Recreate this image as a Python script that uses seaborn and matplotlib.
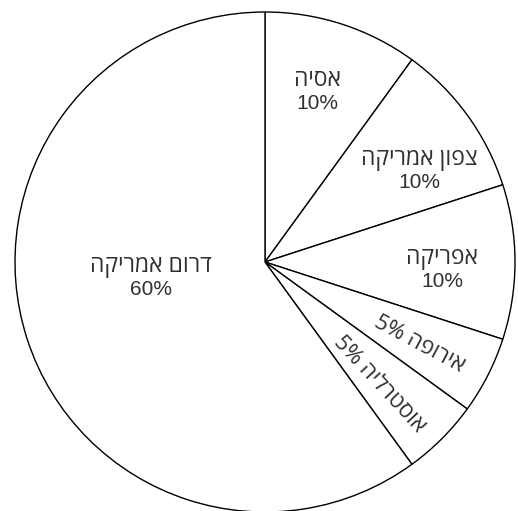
import numpy as np
import matplotlib
matplotlib.use("Agg")
import matplotlib.pyplot as plt
import seaborn as sns

# ---- data ----
regions = ["אסיה", "צפון אמריקה", "אפריקה", "אירופה", "אוסטרליה", "דרום אמריקה"]
shares = [10, 10, 10, 5, 5, 60]

# ---- layout (label placement relative to each wedge) ----
label_radius = [0.72, 0.72, 0.71, 0.70, 0.67, 0.46]
label_dtheta = [1, -5, -2, -1, -2, -11]
label_rotated = [False, False, False, True, True, False]

sns.set_theme(style="white")
plt.rcParams["font.family"] = ["Open Sans", "Liberation Sans", "DejaVu Sans"]

HEB_FONT = ["Open Sans", "DejaVu Sans"]
NUM_FONT = ["Liberation Sans", "DejaVu Sans"]
HEB_SIZE = 16.5
NUM_SIZE = 15.0


def visual(s):
    """Convert logical RTL Hebrew text into visual (left-to-right glyph) order."""
    return s[::-1]


fig = plt.figure(figsize=(5.18, 5.11), dpi=100)
ax = fig.add_axes([0, 0, 1, 1])
wedges, _ = ax.pie(
    shares,
    startangle=90,
    counterclock=False,
    colors=["white"] * len(shares),
    wedgeprops=dict(edgecolor="black", linewidth=1.0),
    radius=1.0,
)

txt_color = "#303030"
for w, name, val, r, dth, rot in zip(wedges, regions, shares, label_radius,
                                      label_dtheta, label_rotated):
    mid = (w.theta1 + w.theta2) / 2.0 + dth
    x = r * np.cos(np.deg2rad(mid))
    y = r * np.sin(np.deg2rad(mid))
    pct = f"{val}%"
    if rot:
        text = f"{pct} {visual(name)}"
        ax.text(x, y, text, ha="center", va="center", rotation=mid,
                rotation_mode="anchor", fontsize=HEB_SIZE - 0.5, color=txt_color,
                family=HEB_FONT)
    else:
        ax.annotate(visual(name), (x, y), xytext=(0, 3), textcoords="offset points",
                    ha="center", va="baseline", fontsize=HEB_SIZE,
                    color=txt_color, family=HEB_FONT)
        ax.annotate(pct, (x, y), xytext=(0, -13.5), textcoords="offset points",
                    ha="center", va="baseline", fontsize=NUM_SIZE,
                    color=txt_color, family=NUM_FONT)

# pixel-matched view: centre at (265, 262) px, radius 250 px
ax.set_xlim(-265 / 250, (518 - 265) / 250)
ax.set_ylim(-(511 - 262) / 250, 262 / 250)
ax.set_aspect("equal", adjustable="box")
ax.axis("off")

fig.savefig("out.png", dpi=100, facecolor="white")
